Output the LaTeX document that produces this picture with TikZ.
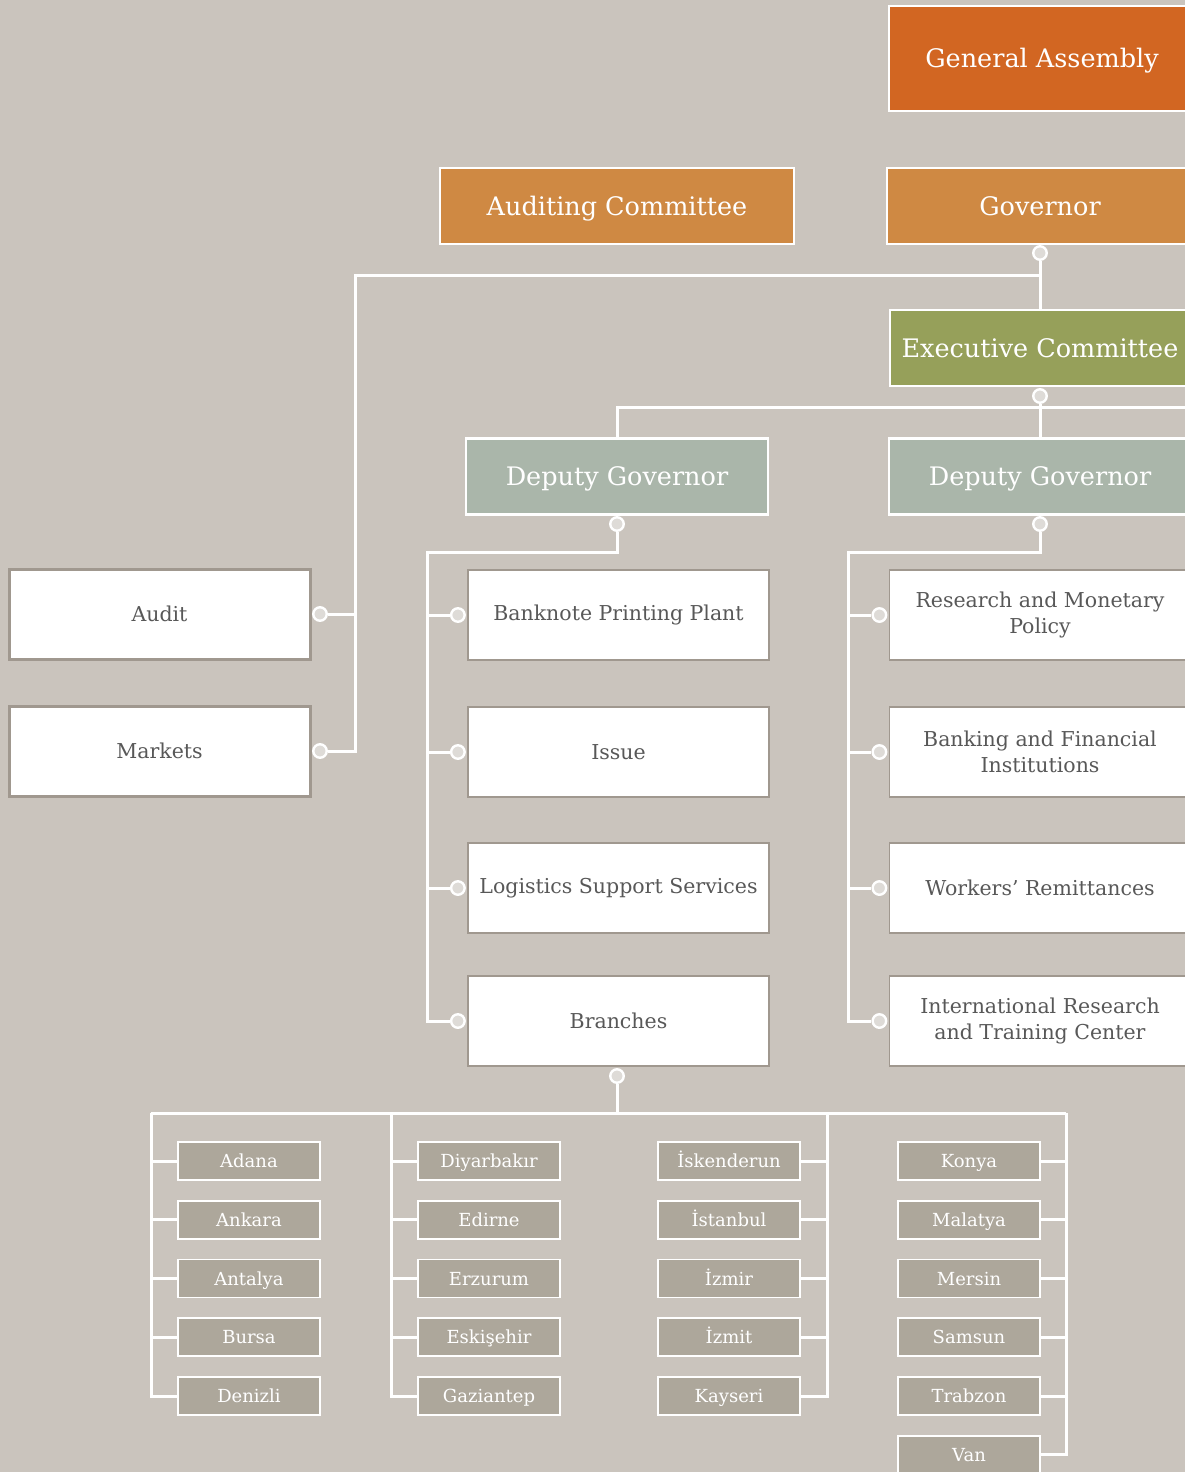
\documentclass[tikz,border=0pt]{standalone}
\usepackage{fontspec}
\setmainfont{DejaVu Serif}
\definecolor{bg}{RGB}{202,196,189}
\definecolor{assembly}{RGB}{210,102,34}
\definecolor{governor}{RGB}{207,137,67}
\definecolor{executive}{RGB}{150,160,90}
\definecolor{deputy}{RGB}{170,182,170}
\definecolor{city}{RGB}{173,167,155}
\definecolor{edge}{RGB}{160,152,143}
\definecolor{label}{RGB}{88,88,88}
\definecolor{jointfill}{RGB}{222,219,215}
\tikzset{
  headbox/.style={draw=white, line width=2.5pt, text=white, inner sep=0pt,
    minimum height=76pt, text height=24.6pt, text depth=6pt,
    font=\fontsize{25.5}{30}\selectfont},
  unitbox/.style={draw=edge, fill=white, line width=1.2pt, text=label, inner sep=0pt,
    minimum width=301pt, minimum height=90pt, align=center,
    font=\fontsize{20.5}{26.5}\selectfont},
  citybox/.style={draw=white, fill=city, line width=1.6pt, text=white, inner sep=0pt,
    minimum width=142pt, minimum height=38pt, text height=17.1pt, text depth=4pt,
    font=\fontsize{18}{20}\selectfont},
  joint/.style={circle, draw=white, fill=jointfill, line width=2.4pt,
    minimum size=13.5pt, inner sep=0pt},
  link/.style={draw=white, line width=3pt},
}
\begin{document}
\begin{tikzpicture}[x=1pt,y=-1pt]
\fill[bg] (0,0) rectangle (1185,1472);
\useasboundingbox (0,0) rectangle (1185,1472);

\node[headbox,fill=assembly,minimum width=306pt,minimum height=105pt] (assembly) at (1042,58.5) {General Assembly};
\node[headbox,fill=governor,minimum width=354pt] (audcom) at (617,206) {Auditing Committee};
\node[headbox,fill=governor,minimum width=306pt] (governor) at (1040,206) {Governor};
\node[headbox,fill=executive,minimum width=300pt] (exec) at (1040,348) {Executive Committee};
\node[headbox,fill=deputy,minimum width=302pt] (depL) at (617,476.5) {Deputy Governor};
\node[headbox,fill=deputy,minimum width=302pt] (depR) at (1040,476.5) {Deputy Governor};

\node[unitbox,line width=3pt] (audit) at (159.5,614) {Audit};
\node[unitbox,line width=3pt] (markets) at (159.5,751) {Markets};

\node[unitbox] (banknote) at (618.5,615) {Banknote Printing Plant};
\node[unitbox] (issue) at (618.5,752) {Issue};
\node[unitbox] (logistics) at (618.5,888) {Logistics Support Services};
\node[unitbox] (branches) at (618.5,1021) {Branches};

\node[unitbox] (research) at (1040,615) {Research and Monetary\\Policy};
\node[unitbox] (banking) at (1040,752) {Banking and Financial\\Institutions};
\node[unitbox] (workers) at (1040,888) {Workers’ Remittances};
\node[unitbox] (training) at (1040,1021) {International Research\\and Training Center};

\node[joint] (govdot) at (1040,253) {};
\node[joint] (execdot) at (1040,396) {};
\node[joint] (depLdot) at (617,524) {};
\node[joint] (depRdot) at (1040,524) {};
\node[joint] (auditdot) at (320,614) {};
\node[joint] (marketsdot) at (320,751) {};
\node[joint] (branchout) at (617,1076) {};
\foreach \u in {banknote,issue,logistics,branches,research,banking,workers,training}
  \node[joint] (\u-in) at ([xshift=-9.5pt]\u.west) {};

% governor
\coordinate (auditbus) at (355,275);
\draw[link] (govdot) -- (exec);
\draw[link] (govdot |- auditbus) -- (auditbus) |- (marketsdot);
\draw[link] (auditbus |- auditdot) -- (auditdot);

% executive committee
\coordinate (execbus) at (1200,407);
\draw[link] (execdot) -- (depR);
\draw[link] (depL) |- (execbus);

% deputies
\coordinate (leftbus) at (427,552);
\coordinate (rightbus) at (848,552);
\draw[link] (depLdot) |- (leftbus) |- (branches-in);
\draw[link] (depRdot) |- (rightbus) |- (training-in);
\foreach \u in {banknote,issue,logistics}
  \draw[link] (leftbus |- \u-in) -- (\u-in);
\foreach \u in {research,banking,workers}
  \draw[link] (rightbus |- \u-in) -- (\u-in);

% branches
\coordinate (colA) at (151,1113);
\coordinate (colB) at (391,1113);
\coordinate (colC) at (827,1113);
\coordinate (colD) at (1066,1113);
\draw[link] (branchout) -- (branchout |- colA);
\draw[link] (colA) -- (colD);

\foreach \name [count=\i] in {Adana,Ankara,Antalya,Bursa,Denizli}
  \node[citybox] (a\i) at (249,{1102.25+58.75*\i}) {\name};
\foreach \name [count=\i] in {Diyarbakır,Edirne,Erzurum,Eskişehir,Gaziantep}
  \node[citybox] (b\i) at (489,{1102.25+58.75*\i}) {\name};
\foreach \name [count=\i] in {İskenderun,İstanbul,İzmir,İzmit,Kayseri}
  \node[citybox] (c\i) at (729,{1102.25+58.75*\i}) {\name};
\foreach \name [count=\i] in {Konya,Malatya,Mersin,Samsun,Trabzon,Van}
  \node[citybox] (d\i) at (969,{1102.25+58.75*\i}) {\name};

\draw[link] (colA) |- (a5);
\draw[link] (colB) |- (b5);
\draw[link] (colC) |- (c5);
\draw[link] (colD) |- (d6);
\foreach \i in {1,...,4} {
  \draw[link] (colA |- a\i) -- (a\i);
  \draw[link] (colB |- b\i) -- (b\i);
  \draw[link] (colC |- c\i) -- (c\i);
}
\foreach \i in {1,...,5}
  \draw[link] (colD |- d\i) -- (d\i);
\end{tikzpicture}
\end{document}
